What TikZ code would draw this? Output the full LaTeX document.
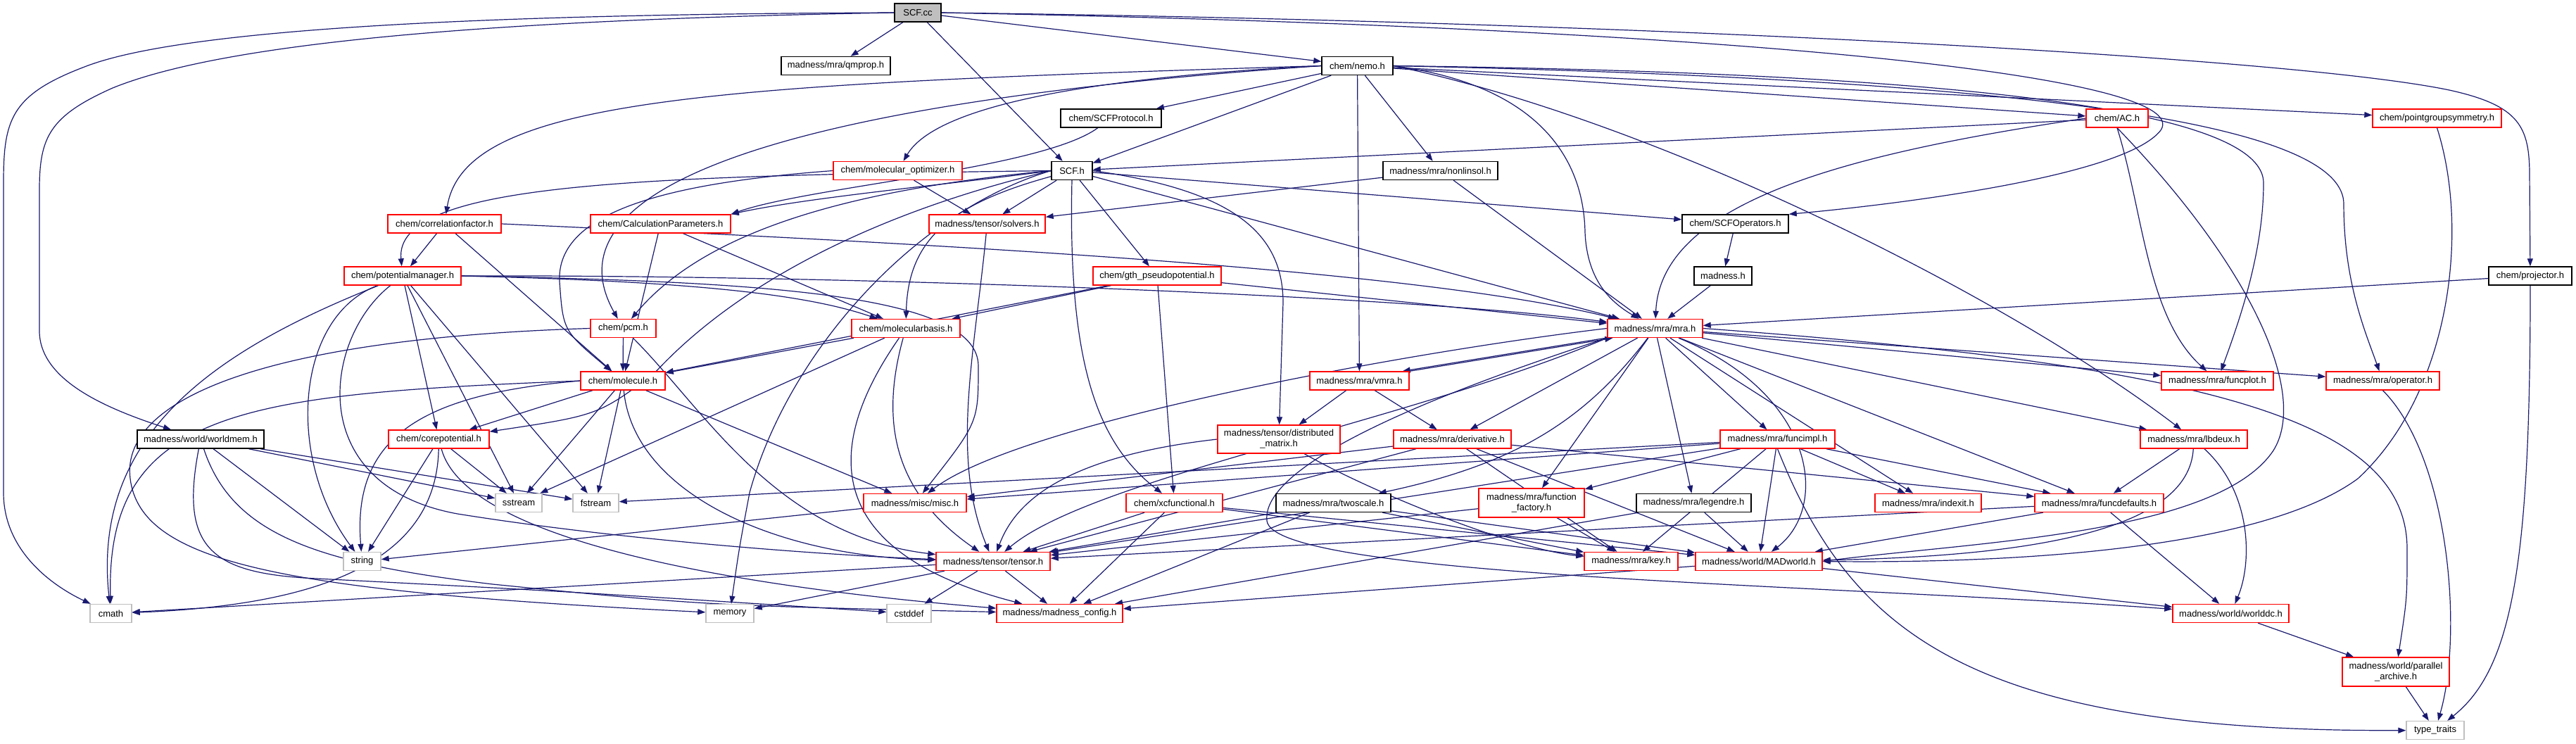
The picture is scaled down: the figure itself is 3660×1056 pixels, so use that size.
\documentclass[tikz,border=0pt]{standalone}
\usepackage{fontspec}
\setmainfont{Liberation Sans}
\usetikzlibrary{arrows.meta}
\definecolor{edgec}{HTML}{191970}
\definecolor{redb}{HTML}{FF0000}
\definecolor{grayb}{HTML}{BFBFBF}
\newcommand\nf{\fontsize{6.5}{7.5}\selectfont}
\pgfdeclarelayer{back}
\pgfdeclarelayer{bg}
\pgfsetlayers{back,bg,main}
\tikzset{
  hbox/.style={draw, line width=0.7pt, inner sep=1pt, minimum height=13pt, font=\nf, fill=white, align=center},
  rbox/.style={hbox, draw=redb},
  kbox/.style={hbox, draw=black},
  gbox/.style={hbox, draw=grayb},
  e/.style={draw=edgec, line width=0.6pt, -{Triangle[length=5.5pt,width=4pt]}},
}
\begin{document}
\begin{tikzpicture}[x=0.5pt,y=-0.5pt]
\useasboundingbox (0,0) rectangle (3660,1056);
\begin{pgfonlayer}{back}
\fill[white] (0,0) rectangle (3660,1056);
\end{pgfonlayer}
% nodes
\node[kbox, fill=grayb, minimum width=33pt] (scc) at (1304,18) {SCF.cc};
\node[kbox, minimum width=77.5pt] (qmprop) at (1187.5,93.5) {madness/mra/qmprop.h};
\node[kbox, minimum width=50.5pt] (nemo) at (1928.5,93.5) {chem/nemo.h};
\node[kbox, minimum width=71.5pt] (scfprot) at (1578.5,168) {chem/SCFProtocol.h};
\node[rbox, minimum width=44pt] (ach) at (3008,168) {chem/AC.h};
\node[rbox, minimum width=91.5pt] (pgs) at (3462.5,168) {chem/pointgroupsymmetry.h};
\node[rbox, minimum width=91.5pt] (molopt) at (1275.5,242.5) {chem/molecular\_optimizer.h};
\node[kbox, minimum width=29pt] (scfh) at (1523,242.5) {SCF.h};
\node[kbox, minimum width=81.5pt] (nonlin) at (2046.5,242.5) {madness/mra/nonlinsol.h};
\node[rbox, minimum width=80.5pt] (corrf) at (631.5,318) {chem/correlationfactor.h};
\node[rbox, minimum width=99.5pt] (calcp) at (938.5,318) {chem/CalculationParameters.h};
\node[rbox, minimum width=82.5pt] (solvers) at (1402.5,318) {madness/tensor/solvers.h};
\node[kbox, minimum width=75.5pt] (scfop) at (2465.5,318) {chem/SCFOperators.h};
\node[rbox, minimum width=83pt] (pm) at (572,392) {chem/potentialmanager.h};
\node[rbox, minimum width=91pt] (gth) at (1644,392) {chem/gth\_pseudopotential.h};
\node[kbox, minimum width=41pt] (madnessh) at (2448,392) {madness.h};
\node[kbox, minimum width=59pt] (projector) at (3595,392) {chem/projector.h};
\node[rbox, minimum width=46.5pt] (pcm) at (885.5,466.5) {chem/pcm.h};
\node[rbox, minimum width=77pt] (molbasis) at (1287,466.5) {chem/molecularbasis.h};
\node[rbox, minimum width=67.5pt] (mra) at (2351.5,466.5) {madness/mra/mra.h};
\node[rbox, minimum width=60pt] (molecule) at (885,541) {chem/molecule.h};
\node[rbox, minimum width=70.5pt] (vmra) at (1931.5,541) {madness/mra/vmra.h};
\node[rbox, minimum width=79.5pt] (funcplot) at (3150.5,541) {madness/mra/funcplot.h};
\node[rbox, minimum width=80.5pt] (operator) at (3385.5,541) {madness/mra/operator.h};
\node[kbox, minimum width=90pt] (worldmem) at (285,624) {madness/world/worldmem.h};
\node[rbox, minimum width=71.5pt] (corepot) at (623.5,624) {chem/corepotential.h};
\node[rbox, minimum width=87pt, minimum height=20pt] (distmat) at (1817,624) {madness/tensor/distributed\\\_matrix.h};
\node[rbox, minimum width=83.5pt] (derivative) at (2063.5,624) {madness/mra/derivative.h};
\node[rbox, minimum width=81.5pt] (funcimpl) at (2525.5,624) {madness/mra/funcimpl.h};
\node[rbox, minimum width=76pt] (lbdeux) at (3117,624) {madness/mra/lbdeux.h};
\node[gbox, minimum width=33pt] (sstream) at (737,714.5) {sstream};
\node[gbox, minimum width=32.5pt] (fstream) at (846.5,714.5) {fstream};
\node[rbox, minimum width=73pt] (misc) at (1300,714.5) {madness/misc/misc.h};
\node[rbox, minimum width=68.5pt] (xcfunc) at (1668.5,714.5) {chem/xcfunctional.h};
\node[kbox, minimum width=81.5pt] (twoscale) at (1894.5,714.5) {madness/mra/twoscale.h};
\node[rbox, minimum width=75pt, minimum height=20.5pt] (funcfact) at (2176,714.5) {madness/mra/function\\\_factory.h};
\node[kbox, minimum width=81.5pt] (legendre) at (2406.5,714.5) {madness/mra/legendre.h};
\node[rbox, minimum width=75.5pt] (indexit) at (2739.5,714.5) {madness/mra/indexit.h};
\node[rbox, minimum width=91.5pt] (funcdef) at (2982.5,714.5) {madness/mra/funcdefaults.h};
\node[gbox, minimum width=26.5pt] (string) at (514.5,797.5) {string};
\node[rbox, minimum width=81pt] (tensor) at (1411,797.5) {madness/tensor/tensor.h};
\node[rbox, minimum width=66.5pt] (key) at (2317.5,797.5) {madness/mra/key.h};
\node[rbox, minimum width=90pt] (madworld) at (2499,797.5) {madness/world/MADworld.h};
\node[gbox, minimum width=29.5pt] (cmath) at (157.5,871.5) {cmath};
\node[gbox, minimum width=34pt] (memory) at (1037,871.5) {memory};
\node[gbox, minimum width=31.5pt] (cstddef) at (1291.5,871.5) {cstddef};
\node[rbox, minimum width=89.5pt] (config) at (1505.5,871.5) {madness/madness\_config.h};
\node[rbox, minimum width=82.5pt] (worlddc) at (3169.5,871.5) {madness/world/worlddc.h};
\node[rbox, minimum width=76pt, minimum height=20.5pt] (parch) at (3404,954.5) {madness/world/parallel\\\_archive.h};
\node[gbox, minimum width=41pt] (typetraits) at (3460,1037.5) {type\_traits};

\begin{pgfonlayer}{bg}
% SCF.cc
\draw[e] (scc) -- (qmprop);
\draw[e] (scc) -- (scfh);
\draw[e] (scc) -- (nemo);
\draw[e] (scc.west) .. controls (700,20) and (260,40) .. (120,95) .. controls (15,135) and (5,170) .. (5,260) -- (5,700) .. controls (5,780) and (70,830) .. (cmath);
\draw[e] (scc.west) .. controls (700,28) and (320,60) .. (160,125) .. controls (70,165) and (56,195) .. (56,270) -- (56,470) .. controls (56,540) and (150,580) .. (worldmem);
\draw[e] (scc.east) .. controls (2300,30) and (3250,80) .. (3480,128) .. controls (3580,150) and (3594,180) .. (3594,250) -- (projector);
\draw[e] (scc.east) .. controls (2500,40) and (3120,110) .. (3070,185) .. controls (3020,250) and (2700,290) .. (scfop.north east);
% nemo
\draw[e] (nemo) -- (scfprot);
\draw[e] (nemo) -- (ach);
\draw[e] (nemo) -- (pgs);
\draw[e] (nemo.west) .. controls (1550,110) and (1330,150) .. (molopt);
\draw[e] (nemo) -- (scfh);
\draw[e] (nemo) -- (nonlin);
\draw[e] (nemo.west) .. controls (1000,120) and (660,140) .. (corrf);
\draw[e] (nemo.west) .. controls (1050,150) and (780,280) .. (pcm);
\draw[e] (nemo) -- (vmra);
\draw[e] (nemo.east) .. controls (2180,120) and (2250,220) .. (2252,330) .. controls (2255,400) and (2290,430) .. (mra);
\draw[e] (nemo.east) .. controls (2900,105) and (3216,170) .. (3216,260) .. controls (3216,360) and (3180,460) .. (funcplot);
\draw[e] (nemo.east) .. controls (3000,115) and (3330,190) .. (3330,290) .. controls (3330,400) and (3360,470) .. (operator);
\draw[e] (nemo.east) .. controls (2350,170) and (2850,420) .. (lbdeux);
% AC
\draw[e] (ach) -- (scfh);
\draw[e] (ach.west) .. controls (2650,215) and (2360,280) .. (mra);
\draw[e] (ach.south) .. controls (3045,300) and (3050,450) .. (funcplot);
\draw[e] (ach.south) .. controls (3200,380) and (3280,560) .. (3230,640) .. controls (3150,760) and (2800,770) .. (madworld.east);
% pgs
\draw[e] (pgs.south) .. controls (3510,330) and (3480,560) .. (3350,680) .. controls (3200,790) and (2800,800) .. (madworld.east);
% projector
\draw[e] (projector) -- (mra);
\draw[e] (projector.south) .. controls (3595,800) and (3570,950) .. (typetraits);
% SCFProtocol
\draw[e] (scfprot) .. controls (1480,240) and (1150,265) .. (calcp.north east);
% molecular_optimizer
\draw[e] (molopt) -- (solvers);
\draw[e] (molopt.west) .. controls (950,260) and (790,300) .. (795,400) .. controls (800,470) .. (molecule);
% SCF.h
\draw[e] (scfh.west) .. controls (1350,262) and (1150,280) .. (calcp.north east);
\draw[e] (scfh.west) .. controls (900,250) and (560,260) .. (pm);
\draw[e] (scfh.west) .. controls (1200,270) and (1000,330) .. (pcm);
\draw[e] (scfh) .. controls (1350,290) and (1290,340) .. (molbasis);
\draw[e] (scfh) -- (solvers);
\draw[e] (scfh.south) .. controls (1517,520) and (1560,630) .. (xcfunc);
\draw[e] (scfh) -- (gth);
\draw[e] (scfh.east) .. controls (1750,270) and (1823,330) .. (1823,430) -- (distmat);
\draw[e] (scfh) -- (mra);
\draw[e] (scfh) -- (scfop);
\draw[e] (scfh.west) .. controls (1300,300) and (1120,500) .. (1065,700) .. controls (1050,780) .. (memory);
\draw[e] (scfh.west) .. controls (1250,300) and (1050,400) .. (930,530) .. controls (850,590) .. (corepot);
% gth
\draw[e] (gth) -- (molbasis);
\draw[e] (gth) -- (molecule);
\draw[e] (gth) -- (xcfunc);
\draw[e] (gth) -- (mra);
% potentialmanager
\draw[e] (pm.east) .. controls (1200,390) and (2000,420) .. (mra);
\draw[e] (pm.east) .. controls (1000,400) and (1150,420) .. (molbasis);
\draw[e] (pm) -- (corepot);
\draw[e] (pm) -- (sstream);
\draw[e] (pm) -- (fstream);
\draw[e] (pm) .. controls (420,450) and (405,650) .. (string);
\draw[e] (pm) .. controls (300,500) and (130,620) .. (cmath);
\draw[e] (pm) .. controls (460,480) and (430,690) .. (650,730) .. controls (900,770) and (1200,790) .. (tensor);
\draw[e] (pm.east) .. controls (1100,400) and (1390,420) .. (1390,520) .. controls (1390,600) .. (misc);
% correlationfactor
\draw[e] (corrf) -- (pm);
\draw[e] (corrf) -- (molecule);
\draw[e] (corrf.east) .. controls (1300,345) and (2000,380) .. (mra);
% CalculationParameters
\draw[e] (calcp) -- (molecule);
\draw[e] (calcp) -- (molbasis);
% pcm
\draw[e] (pcm) -- (molecule);
\draw[e] (pcm.west) .. controls (400,480) and (170,560) .. (185,680) .. controls (200,800) and (400,840) .. (memory);
\draw[e] (pcm) .. controls (1000,580) and (1100,760) .. (tensor);
% molecularbasis
\draw[e] (molbasis) -- (molecule);
\draw[e] (molbasis) -- (sstream);
\draw[e] (molbasis) .. controls (1250,600) and (1270,700) .. (tensor);
\draw[e] (molbasis) .. controls (1180,620) and (1150,780) .. (config);
% molecule
\draw[e] (molecule) -- (corepot);
\draw[e] (molecule) -- (sstream);
\draw[e] (molecule) -- (fstream);
\draw[e] (molecule.west) .. controls (600,560) and (500,620) .. (string);
\draw[e] (molecule.west) .. controls (350,560) and (150,580) .. (cmath);
\draw[e] (molecule) -- (misc);
\draw[e] (molecule) .. controls (900,700) and (1100,790) .. (tensor);
% corepotential
\draw[e] (corepot) -- (string);
\draw[e] (corepot) .. controls (620,800) and (450,860) .. (cmath);
\draw[e] (corepot) -- (sstream);
\draw[e] (corepot) .. controls (660,760) and (1000,830) .. (config);
% worldmem
\draw[e] (worldmem) -- (string);
\draw[e] (worldmem) -- (sstream);
\draw[e] (worldmem) -- (fstream);
\draw[e] (worldmem) .. controls (255,780) and (300,815) .. (450,822) .. controls (800,840) .. (cstddef);
\draw[e] (worldmem) .. controls (330,760) and (450,800) .. (700,830) .. controls (1000,860) .. (config);
% solvers, nonlinsol, operators
\draw[e] (solvers) .. controls (1385,500) and (1350,650) .. (tensor);
\draw[e] (nonlin) -- (solvers);
\draw[e] (nonlin) -- (mra);
\draw[e] (scfop) -- (madnessh);
\draw[e] (madnessh) -- (mra);
% vmra
\draw[e] (vmra.north east) -- ([xshift=4pt]mra.south west);
\draw[e] ([xshift=-1pt]mra.south west) -- ([xshift=-5pt]vmra.north east);
\draw[e] (vmra) -- (derivative);
\draw[e] (vmra) -- (distmat);
% distributed_matrix
\draw[e] (distmat.west) .. controls (1500,650) and (1440,720) .. (tensor);
\draw[e] (distmat) .. controls (1950,700) and (2150,780) .. (key);
% derivative
\draw[e] (derivative) -- (misc);
\draw[e] (derivative) -- (tensor);
\draw[e] (derivative) -- (key);
\draw[e] (derivative) -- (madworld);
\draw[e] (derivative) -- (funcdef);
% funcimpl
\draw[e] (funcimpl) -- (misc);
\draw[e] (funcimpl) -- (fstream);
\draw[e] (funcimpl) -- (tensor);
\draw[e] (funcimpl) -- (key);
\draw[e] (funcimpl) -- (madworld);
\draw[e] (funcimpl) -- (funcdef);
\draw[e] (funcimpl) -- (indexit);
\draw[e] (funcimpl) -- (funcfact);
\draw[e] (funcimpl.south) .. controls (2630,900) and (2800,1040) .. (typetraits);
% mra
\draw[e] (mra) -- (derivative);
\draw[e] (mra) -- (funcfact);
\draw[e] (mra) -- (legendre);
\draw[e] (mra) -- (funcimpl);
\draw[e] (mra) .. controls (2250,600) and (2150,660) .. (twoscale);
\draw[e] (mra.west) .. controls (2000,500) and (1450,600) .. (misc);
\draw[e] (mra.south west) .. controls (2000,600) and (1550,680) .. (tensor);
\draw[e] (mra) -- (indexit);
\draw[e] (mra) -- (funcdef);
\draw[e] (mra) -- (lbdeux);
\draw[e] (mra) -- (funcplot);
\draw[e] (mra) -- (operator);
\draw[e] (mra) .. controls (2580,560) and (2600,720) .. (madworld);
\draw[e] (mra.south west) .. controls (2100,540) and (1790,650) .. (1800,740) .. controls (1810,820) and (2600,830) .. (worlddc);
\draw[e] (mra.east) .. controls (3150,520) and (3420,600) .. (3420,780) .. controls (3420,850) .. (parch);
% lbdeux
\draw[e] (lbdeux) -- (funcdef);
\draw[e] (lbdeux) .. controls (3200,700) and (3200,800) .. (worlddc);
\draw[e] (lbdeux) .. controls (3110,750) and (2900,790) .. (madworld);
% funcdefaults
\draw[e] (funcdef) -- (madworld);
\draw[e] (funcdef) -- (worlddc);
\draw[e] (funcdef) -- (tensor);
% xcfunctional
\draw[e] (xcfunc) -- (tensor);
\draw[e] (xcfunc) -- (config);
\draw[e] (xcfunc) -- (key);
\draw[e] (xcfunc) -- (madworld);
% twoscale
\draw[e] (twoscale) -- (tensor);
\draw[e] (twoscale) -- (config);
\draw[e] (twoscale) -- (key);
\draw[e] (twoscale) -- (madworld);
% function_factory
\draw[e] (funcfact) -- (tensor);
\draw[e] (funcfact) -- (key);
% legendre
\draw[e] (legendre) -- (madworld);
\draw[e] (legendre) -- (config);
% misc
\draw[e] (misc) -- (string);
% tensor
\draw[e] (tensor) -- (cmath);
\draw[e] (tensor) -- (memory);
\draw[e] (tensor) -- (cstddef);
\draw[e] (tensor) -- (config);
% MADworld
\draw[e] (madworld) -- (worlddc);
\draw[e] (madworld) -- (config);
% bottom
\draw[e] (worlddc) -- (parch);
\draw[e] (parch) -- (typetraits);
\draw[e] (operator.south) .. controls (3480,650) and (3500,900) .. (typetraits);
\end{pgfonlayer}
\end{tikzpicture}
\end{document}
